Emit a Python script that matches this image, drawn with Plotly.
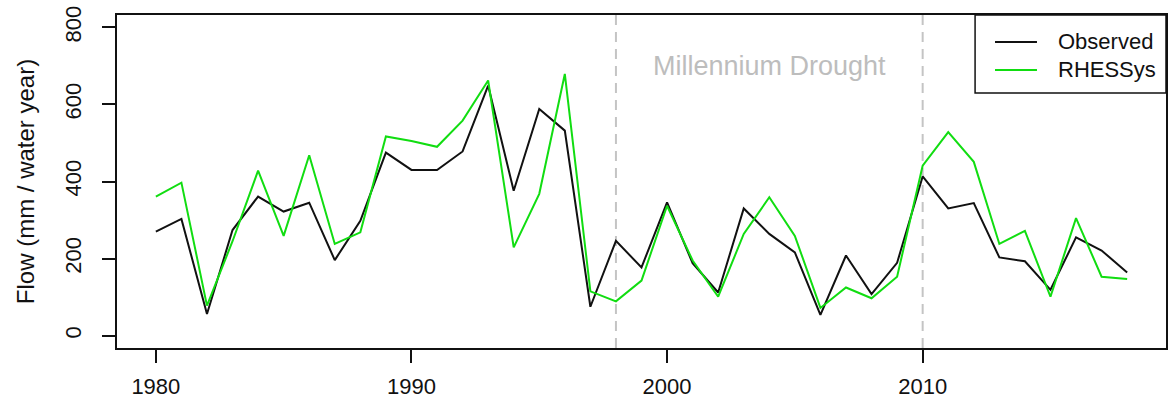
import plotly.graph_objects as go

# Annual flow per water year
years = list(range(1980, 2019))
observed = [270, 303, 56, 274, 361, 322, 345, 196, 298, 475, 430,
            430, 478, 649, 376, 588, 532, 75, 246, 177, 346,
            188, 112, 330, 264, 216, 54, 208, 108, 189, 413,
            330, 344, 203, 193, 119, 255, 221, 164]
rhessys = [361, 397, 78, 245, 428, 259, 468, 238, 268, 517, 505,
           490, 558, 662, 229, 368, 679, 115, 89, 143, 337,
           195, 101, 264, 359, 259, 72, 125, 97, 153, 441,
           528, 451, 238, 272, 101, 305, 153, 147]

series_names = ["Observed", "RHESSys"]
series_colors = ["#111111", "#11dd11"]

# Millennium Drought period bounds
drought_bounds = [1998, 2010]
drought_label = "Millennium Drought"

x_ticks = [1980, 1990, 2000, 2010]
y_ticks = [0, 200, 400, 600, 800]

FONT = "Liberation Sans, Arial, Helvetica, sans-serif"

fig = go.Figure()
for name, vals, col in zip(series_names, [observed, rhessys], series_colors):
    fig.add_trace(go.Scatter(x=years, y=vals, mode="lines", name=name,
                             showlegend=False, line=dict(color=col, width=2)))

for b in drought_bounds:
    fig.add_shape(type="line", x0=b, x1=b, y0=0, y1=1, xref="x", yref="paper",
                  line=dict(color="#c4c4c4", width=2, dash="10px,7px"), layer="below")

fig.add_annotation(x=(drought_bounds[0] + drought_bounds[1]) / 2, y=700,
                   xref="x", yref="y", text=drought_label, showarrow=False,
                   font=dict(family=FONT, size=27, color="#bdbdbd"))

# Boxed legend in the top-right corner of the plot area
fig.add_shape(type="rect", xref="paper", yref="paper", x0=0.818, x1=1.0,
              y0=0.766, y1=1.0, line=dict(color="#111111", width=1.5),
              fillcolor="white", layer="above")
for i, (name, col) in enumerate(zip(series_names, series_colors)):
    ly = 0.919 - i * 0.084
    fig.add_shape(type="line", xref="paper", yref="paper", x0=0.837, x1=0.877,
                  y0=ly, y1=ly, line=dict(color=col, width=2), layer="above")
    fig.add_annotation(xref="paper", yref="paper", x=0.895, y=ly, text=name,
                       showarrow=False, xanchor="left", yanchor="middle",
                       font=dict(family=FONT, size=22, color="#111111"))

fig.update_layout(
    width=1170, height=400,
    margin=dict(l=117, r=4, t=15, b=52),
    paper_bgcolor="white", plot_bgcolor="white",
    font=dict(family=FONT, size=22, color="#111111"),
    showlegend=False,
)
fig.update_xaxes(range=[1978.48, 2019.52], tickvals=x_ticks, ticks="outside",
                 ticklen=13, tickwidth=1.5, tickcolor="#111111",
                 showline=True, linecolor="#111111", linewidth=1.5, mirror=True,
                 showgrid=False, zeroline=False, ticklabelstandoff=5,
                 automargin=False)
fig.update_yaxes(range=[-32, 832], tickvals=y_ticks, ticks="outside",
                 ticklen=13, tickwidth=1.5, tickcolor="#111111", tickangle=-90,
                 showline=True, linecolor="#111111", linewidth=1.5, mirror=True,
                 showgrid=False, zeroline=False, ticklabelstandoff=12,
                 automargin=False,
                 title=dict(text="Flow (mm / water year)", standoff=20,
                            font=dict(family=FONT, size=24)))

fig.write_html("out.html")
